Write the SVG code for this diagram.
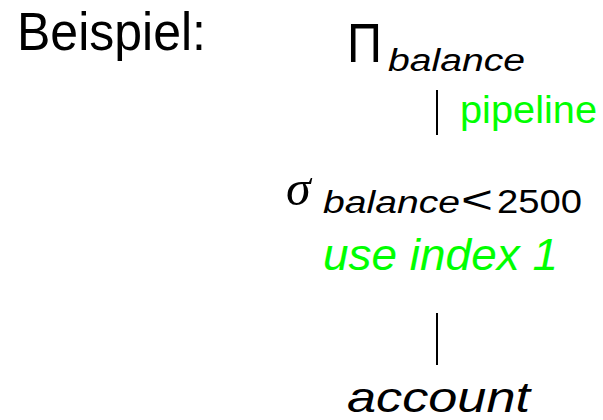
<svg xmlns="http://www.w3.org/2000/svg" width="603" height="420" viewBox="0 0 603 420">
<style>
text{font-family:"Liberation Sans","DejaVu Sans",sans-serif;fill:#000}
.it{font-style:italic}
.g{fill:#00ff00}
.conn line{stroke:#000;stroke-width:2}
</style>
<rect width="603" height="420" fill="#fff"/>
<text id="title" x="17" y="50" font-size="54" textLength="189" lengthAdjust="spacingAndGlyphs">Beispiel:</text>
<g id="node-projection">
<text x="347" y="62" font-size="56" textLength="35" lengthAdjust="spacingAndGlyphs">Π</text>
<text class="it" x="388" y="71" font-size="31" textLength="137" lengthAdjust="spacingAndGlyphs">balance</text>
<text class="g" x="460" y="123" font-size="38" textLength="137" lengthAdjust="spacingAndGlyphs">pipeline</text>
</g>
<g id="node-selection">
<text x="286" y="205" font-size="50" style="font-family:'Liberation Serif','DejaVu Serif',serif;font-style:italic">σ</text>
<text class="it" x="323" y="213" font-size="31" textLength="137" lengthAdjust="spacingAndGlyphs">balance</text>
<text x="461" y="213" font-size="38" textLength="32" lengthAdjust="spacingAndGlyphs">&lt;</text>
<text x="497" y="213" font-size="33" textLength="85" lengthAdjust="spacingAndGlyphs">2500</text>
<text class="it g" x="323" y="270" font-size="45" textLength="235" lengthAdjust="spacingAndGlyphs">use index 1</text>
</g>
<g id="node-account">
<text class="it" x="347" y="412" font-size="43" textLength="183" lengthAdjust="spacingAndGlyphs">account</text>
</g>
<g id="connectors" class="conn">
<line x1="437" y1="90" x2="437" y2="135"/>
<line x1="437" y1="313" x2="437" y2="365"/>
</g>
</svg>
